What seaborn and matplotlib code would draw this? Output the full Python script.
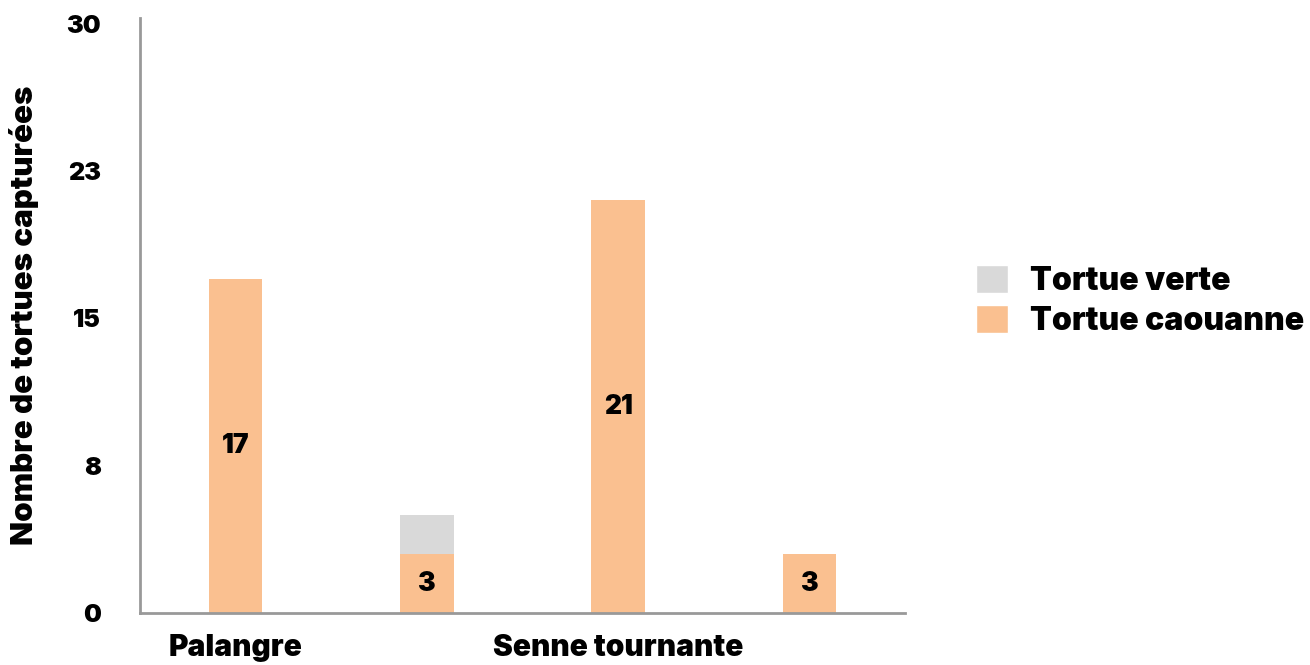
import matplotlib

matplotlib.use("Agg")
import matplotlib.pyplot as plt
import pandas as pd
import seaborn as sns
from matplotlib.patches import Patch

# data
engins = ["Palangre", "Palangre (2)", "Senne tournante", "Senne tournante (2)"]
tick_labels = ["Palangre", "", "Senne tournante", ""]
caouanne = [17, 3, 21, 3]
verte = [0, 2, 0, 0]
y_ticks = [0, 7.5, 15, 22.5, 30]
y_tick_labels = ["0", "8", "15", "23", "30"]

ORANGE = "#FAC090"
GREY = "#D9D9D9"
AXIS = "#999999"
FONT = ["Inter", "DejaVu Sans"]

sns.set_theme(style="white")
plt.rcParams["font.family"] = FONT
plt.rcParams["font.weight"] = "black"
plt.rcParams["text.color"] = "black"
plt.rcParams["axes.labelcolor"] = "black"
plt.rcParams["xtick.color"] = "black"
plt.rcParams["ytick.color"] = "black"

df = pd.DataFrame({"engin": engins, "caouanne": caouanne, "verte": verte})
df["total"] = df["caouanne"] + df["verte"]

fig = plt.figure(figsize=(13.1, 6.65), dpi=100)
ax = fig.add_axes([0.1069, 0.0782, 0.584, 0.8953])

# stacked look: total in grey, caouanne drawn over it
sns.barplot(data=df, x="engin", y="total", order=engins, color=GREY,
            width=0.28, saturation=1, linewidth=0, ax=ax)
sns.barplot(data=df, x="engin", y="caouanne", order=engins, color=ORANGE,
            width=0.28, saturation=1, linewidth=0, ax=ax)

ax.bar_label(ax.containers[1], label_type="center", fontsize=19,
             fontweight="black", color="black")

ax.set_xlim(-0.5, len(engins) - 0.5)
ax.set_ylim(0, 30.3)
ax.set_yticks(y_ticks)
ax.set_yticklabels(y_tick_labels, fontsize=18, fontweight="black")
ax.set_xticks(range(len(engins)))
ax.set_xticklabels(tick_labels, fontsize=21.5, fontweight="black")
ax.tick_params(axis="y", length=0, pad=28)
ax.tick_params(axis="x", length=0, pad=15)
ax.set_xlabel("")
ax.set_ylabel("Nombre de tortues capturées", fontsize=22.5, fontweight="black",
              labelpad=20)

for side in ("top", "right"):
    ax.spines[side].set_visible(False)
for side in ("left", "bottom"):
    ax.spines[side].set_color(AXIS)
    ax.spines[side].set_linewidth(2)

handles = [Patch(facecolor=GREY, label="Tortue verte"),
           Patch(facecolor=ORANGE, label="Tortue caouanne")]
fig.legend(handles=handles, loc="upper left", bbox_to_anchor=(0.745, 0.602),
           frameon=False, prop={"family": FONT, "weight": "black", "size": 23},
           handlelength=1.0, handleheight=1.0, handletextpad=0.7,
           labelspacing=0.25, borderpad=0, borderaxespad=0)

fig.savefig("out.png", dpi=100)
